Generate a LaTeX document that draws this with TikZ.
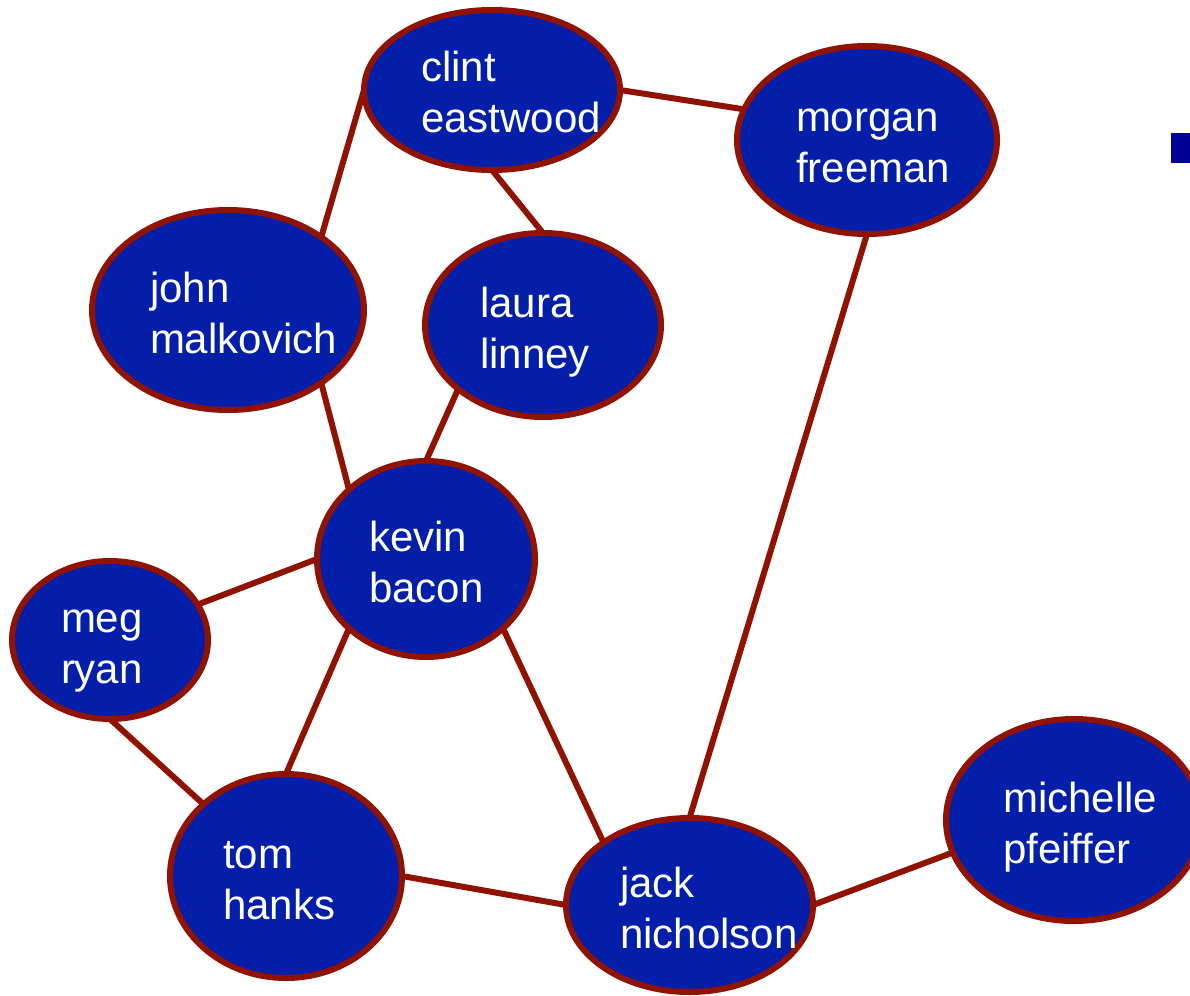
\documentclass[tikz,border=0pt]{standalone}
\usepackage{fontspec}
\newfontfamily\actorfont{Liberation Sans}
\usetikzlibrary{shapes.geometric, backgrounds}
\definecolor{actorblue}{RGB}{3,31,170}
\definecolor{linkred}{RGB}{144,18,0}
\definecolor{bulletblue}{RGB}{0,0,150}

\begin{document}
\begin{tikzpicture}[
    x=1pt, y=-1pt,
    actor/.style = {
        ellipse,
        draw=linkred,
        fill=actorblue,
        line width=6pt,
        inner sep=0pt,
        outer sep=0pt,
        text=white,
        align=left,
        text height=34pt,
        text depth=50pt,
        font=\actorfont\fontsize{42}{51}\selectfont
    },
    link/.style = {draw=linkred, line width=6pt}
]
\useasboundingbox (0,0) rectangle (1190,995);

%% Actor nodes
\node[actor, minimum width=256pt, minimum height=160pt, text width=142pt] (clint) at (492,90) {clint\\eastwood};
\node[actor, minimum width=260pt, minimum height=188pt, text width=142pt] (morgan) at (867,140) {morgan\\freeman};
\node[actor, minimum width=272pt, minimum height=200pt, text width=156pt] (john) at (228,310) {john\\malkovich};
\node[actor, minimum width=236pt, minimum height=184pt, text width=126pt] (laura) at (543,325) {laura\\linney};
\node[actor, minimum width=218pt, minimum height=196pt, text width=114pt] (kevin) at (426,559) {kevin\\bacon};
\node[actor, minimum width=196pt, minimum height=158pt, text width=98pt] (meg) at (110,640) {meg\\ryan};
\node[actor, minimum width=232pt, minimum height=204pt, text width=126pt] (tom) at (286,876) {tom\\hanks};
\node[actor, minimum width=247pt, minimum height=174pt, text width=139pt] (jack) at (689.5,905) {jack\\nicholson};
\node[actor, minimum width=256pt, minimum height=202pt, text width=142pt] (michelle) at (1074,820) {michelle\\pfeiffer};

%% Bullet mark
\fill[bulletblue] (1171,133) rectangle (1190,163);

%% Links between actors
\begin{scope}[on background layer]
\draw[link] (clint.180) -- (john.38);
\draw[link] (clint.0) -- (morgan.166);
\draw[link] (clint.south) -- (laura.north);
\draw[link] (john.-38) -- (kevin.138);
\draw[link] (laura.-143) -- (kevin.north);
\draw[link] (kevin.west) -- (meg.22);
\draw[link] (kevin.-138) -- (tom.north);
\draw[link] (kevin.-42) -- (jack.144);
\draw[link] (meg.south) -- (tom.139);
\draw[link] (tom.east) -- (jack.west);
\draw[link] (morgan.south) -- (jack.north);
\draw[link] (jack.east) -- (michelle.-165);
\end{scope}

\end{tikzpicture}
\end{document}
